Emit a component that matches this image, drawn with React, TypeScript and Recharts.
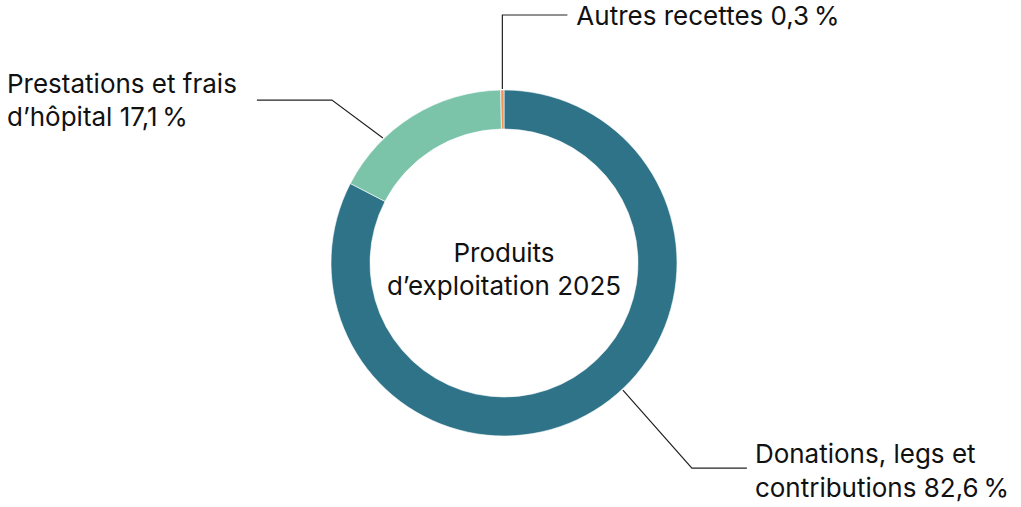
import React from "react";
import { PieChart, Pie, Cell } from "recharts";

const categories = ["Donations, legs et contributions", "Prestations et frais d’hôpital", "Autres recettes"];
const shares = [82.6, 17.1, 0.3];
const shareLabels = ["82,6\u202F%", "17,1\u202F%", "0,3\u202F%"];
const labelLines = [
  ["Donations, legs et", "contributions 82,6\u202F%"],
  ["Prestations et frais", "d’hôpital 17,1\u202F%"],
  ["Autres recettes 0,3\u202F%"],
];
const centerLines = ["Produits", "d’exploitation 2025"];

const colors = ["#2E7388", "#7BC4AA", "#F0935A"];

const data = categories.map((name, i) => ({ name, value: shares[i], pct: shareLabels[i] }));

const FONT = "Inter, 'Noto Sans', sans-serif";
const FS = 26;

// label layout: anchor angle on the ring, elbow offset from the anchor, horizontal run, text placement
const layout = [
  { angle: -46.9, elbow: [69, 78], run: 55, textDx: 8, anchor: "start", lineGap: 34, firstDy: -5 },
  { angle: 134.1, elbow: [-51, -38], run: -75, textX: 7, anchor: "start", lineGap: 33, firstDy: -7 },
  { angle: null, elbow: [0, -74], run: 65, textDx: 9, anchor: "start", lineGap: 33, firstDy: 10 },
];

const RAD = Math.PI / 180;

const renderLabel = (props: any) => {
  const { cx, cy, outerRadius, midAngle, index } = props;
  const cfg = layout[index];
  const ang = cfg.angle === null ? midAngle : cfg.angle;
  const r = outerRadius + 1;
  const sx = cx + r * Math.cos(-ang * RAD);
  const sy = cy + r * Math.sin(-ang * RAD);
  const ex = sx + cfg.elbow[0];
  const ey = sy + cfg.elbow[1];
  const hx = ex + cfg.run;
  const tx = cfg.textX !== undefined ? cfg.textX : hx + (cfg.textDx || 0);
  const lines = labelLines[index];
  return (
    <g key={`lbl-${index}`}>
      <polyline
        points={`${sx},${sy} ${ex},${ey} ${hx},${ey}`}
        fill="none"
        stroke="#222"
        strokeWidth={1.2}
      />
      <text
        x={tx}
        y={ey + cfg.firstDy}
        textAnchor={cfg.anchor as any}
        fontFamily={FONT}
        fontSize={FS}
        fill="#111"
      >
        {lines.map((l, i) => (
          <tspan key={i} x={tx} dy={i === 0 ? 0 : cfg.lineGap}>
            {l}
          </tspan>
        ))}
      </text>
    </g>
  );
};

export default function App() {
  const cx = 504;
  const cy = 263;
  return (
    <div style={{ position: "absolute", left: 0, top: 0, width: 1021, height: 507, background: "#fff" }}>
      <PieChart width={1021} height={507} margin={{ top: 0, right: 0, bottom: 0, left: 0 }}>
        <Pie
          data={data}
          dataKey="value"
          nameKey="name"
          cx={cx}
          cy={cy}
          innerRadius={134}
          outerRadius={173}
          startAngle={90}
          endAngle={-270}
          stroke="#fff"
          strokeWidth={0.6}
          label={renderLabel}
          labelLine={false}
          isAnimationActive={false}
        >
          {data.map((d, i) => (
            <Cell key={d.name} fill={colors[i]} />
          ))}
        </Pie>
        <text x={cx} y={262} textAnchor="middle" fontFamily={FONT} fontSize={FS} fill="#111">
          <tspan x={cx}>{centerLines[0]}</tspan>
          <tspan x={cx} dy={33}>{centerLines[1]}</tspan>
        </text>
      </PieChart>
    </div>
  );
}
